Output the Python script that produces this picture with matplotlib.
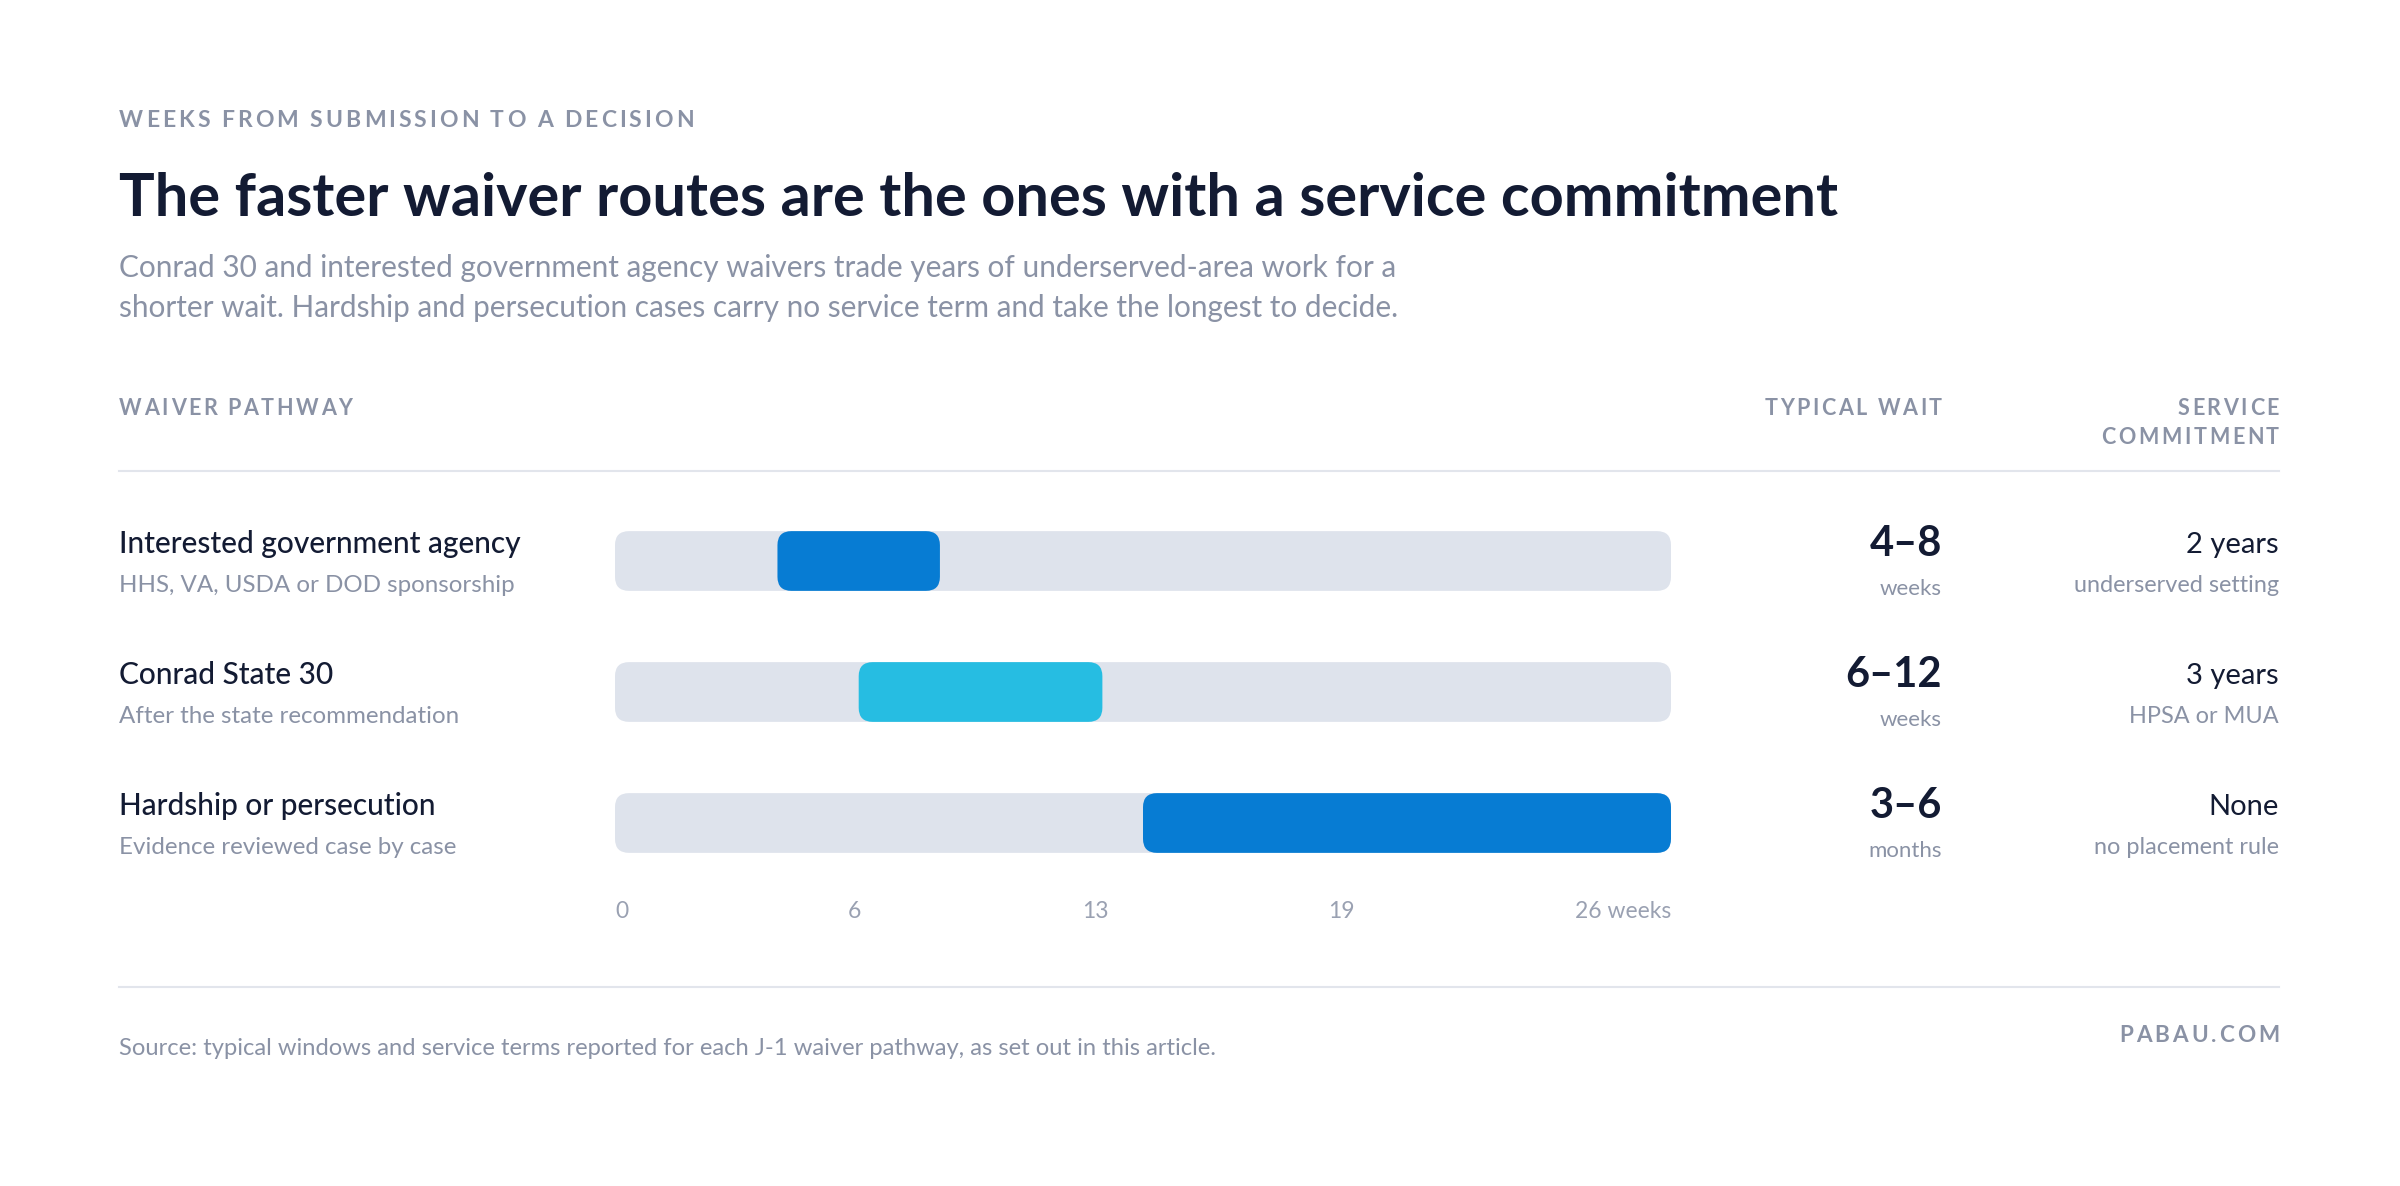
import matplotlib
matplotlib.use("Agg")
import matplotlib.pyplot as plt
from matplotlib.patches import FancyBboxPatch
from matplotlib.lines import Line2D
from matplotlib.font_manager import FontProperties

plt.rcParams['font.family'] = ['Lato', 'DejaVu Sans']

# chart data
pathways = ["Interested government agency", "Conrad State 30", "Hardship or persecution"]
details = ["HHS, VA, USDA or DOD sponsorship", "After the state recommendation",
           "Evidence reviewed case by case"]
wait_start = [4, 6, 13]      # weeks
wait_end = [8, 12, 26]       # weeks
wait_labels = ["4\u20138", "6\u201312", "3\u20136"]
wait_units = ["weeks", "weeks", "months"]
service = ["2 years", "3 years", "None"]
service_notes = ["underserved setting", "HPSA or MUA", "no placement rule"]
scale_max = 26
tick_labels = ["0", "6", "13", "19", "26 weeks"]

NAVY = "#131b33"
GRAY = "#8a92a5"
TICK = "#9aa1b2"
TRACK = "#dee3ec"
RULE = "#e2e5ec"
bar_colors = ["#077cd3", "#26bde2", "#077cd3"]

W, H = 2400, 1186
fig = plt.figure(figsize=(W / 100, H / 100), dpi=100)
fig.patch.set_facecolor("white")
renderer = fig.canvas.get_renderer()


def fx(x):
    return x / W


def fy(y):
    return 1 - y / H


def width(s, fp):
    # measure with a sentinel so trailing spaces count
    w1 = renderer.get_text_width_height_descent(s + "|", fp, ismath=False)[0]
    w2 = renderer.get_text_width_height_descent("|", fp, ismath=False)[0]
    return w1 - w2


def txt(x, y, s, size, color, weight="normal", ha="left", spacing=0.0):
    fp = FontProperties(family=plt.rcParams['font.family'], size=size, weight=weight)
    if not spacing:
        return fig.text(fx(x), fy(y), s, fontproperties=fp, color=color, ha=ha, va="baseline")
    total = width(s, fp) + spacing * (len(s) - 1)
    x0 = x if ha == "left" else x - total
    for i, ch in enumerate(s):
        fig.text(fx(x0 + width(s[:i], fp) + spacing * i), fy(y), ch,
                 fontproperties=fp, color=color, va="baseline")


L, R = 119, 2279

# header block
txt(L, 127, "WEEKS FROM SUBMISSION TO A DECISION", 16.5, GRAY, "bold", spacing=3.0)
txt(L, 216, "The faster waiver routes are the ones with a service commitment", 42.8, NAVY, "bold")
txt(L, 277, "Conrad 30 and interested government agency waivers trade years of underserved-area work for a",
    21.4, GRAY)
txt(L, 317, "shorter wait. Hardship and persecution cases carry no service term and take the longest to decide.",
    21.4, GRAY)

# column headers
col_wait, col_service = 1942, R
txt(L, 415, "WAIVER PATHWAY", 15.5, GRAY, "bold", spacing=2.6)
txt(col_wait, 415, "TYPICAL WAIT", 15.5, GRAY, "bold", ha="right", spacing=2.6)
txt(col_service, 415, "SERVICE", 15.5, GRAY, "bold", ha="right", spacing=2.6)
txt(col_service, 444, "COMMITMENT", 15.5, GRAY, "bold", ha="right", spacing=2.6)

fig.add_artist(Line2D([fx(L), fx(R)], [fy(471), fy(471)], color=RULE, lw=1.5))
fig.add_artist(Line2D([fx(L), fx(R)], [fy(987), fy(987)], color=RULE, lw=1.5))

# bar area
bx0, bx1 = 615, 1671
row_top, row_step = 561, 131
ax = fig.add_axes([fx(bx0), fy(row_top + row_step * 2.5), (bx1 - bx0) / W, row_step * 3 / H])
ax.set_xlim(0, scale_max)
ax.set_ylim(2.5, -0.5)
ax.axis("off")

px_per_x = (bx1 - bx0) / scale_max
px_per_y = row_step
aspect = px_per_x / px_per_y
radius = 14 / px_per_x
bar_h = 0.456

for i in range(len(pathways)):
    ax.add_patch(FancyBboxPatch((0, i - bar_h / 2), scale_max, bar_h,
                                boxstyle=f"round,pad=0,rounding_size={radius}",
                                mutation_aspect=aspect, fc=TRACK, ec="none"))
    ax.add_patch(FancyBboxPatch((wait_start[i], i - bar_h / 2), wait_end[i] - wait_start[i], bar_h,
                                boxstyle=f"round,pad=0,rounding_size={radius}",
                                mutation_aspect=aspect, fc=bar_colors[i], ec="none"))

    base = row_top + row_step * i
    txt(L, base - 8, pathways[i], 21.5, NAVY, "medium")
    txt(L, base + 31, details[i], 17.4, GRAY)
    txt(col_wait, base - 5, wait_labels[i], 30, NAVY, "bold", ha="right")
    txt(col_wait, base + 34, wait_units[i], 16, GRAY, ha="right")
    txt(col_service, base - 8, service[i], 21, NAVY, ha="right")
    txt(col_service, base + 31, service_notes[i], 16.9, GRAY, ha="right")

# scale labels spread edge to edge
fp_tick = FontProperties(family=plt.rcParams['font.family'], size=16.5, weight="normal")
widths = [width(t, fp_tick) for t in tick_labels]
gap = ((bx1 - bx0) - sum(widths)) / (len(tick_labels) - 1)
xpos = bx0
for t, w in zip(tick_labels, widths):
    fig.text(fx(xpos), fy(918), t, fontproperties=fp_tick, color=TICK, va="baseline")
    xpos += w + gap

# footer
txt(L, 1055, "Source: typical windows and service terms reported for each J-1 waiver pathway, as set out in this article.",
    17.1, GRAY)
txt(R, 1042, "PABAU.COM", 16.2, GRAY, "bold", ha="right", spacing=2.9)

fig.savefig("out.png", dpi=100, facecolor="white")
